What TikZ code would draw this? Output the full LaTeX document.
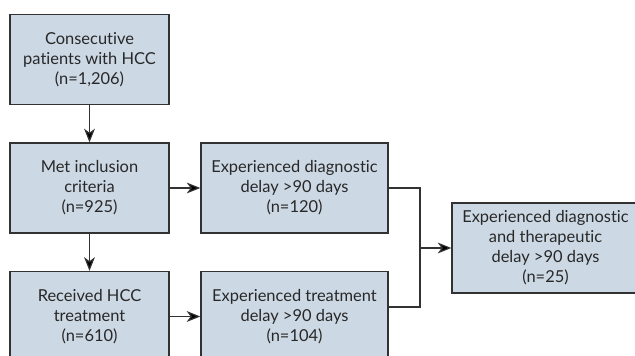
\documentclass[tikz,border=0pt]{standalone}
\usepackage{fontspec}
\setmainfont{Lato}[Ligatures=NoCommon]
\usetikzlibrary{arrows.meta}
\definecolor{boxfill}{RGB}{204,216,228}
\definecolor{boxline}{RGB}{50,50,50}
\definecolor{boxtext}{RGB}{40,40,40}
\begin{document}
\begin{tikzpicture}
\tikzset{box style/.style={shape=rectangle,draw=boxline,fill=boxfill,line width=1pt,
                           align=center,inner sep=0pt,minimum height=2.25cm,text=boxtext,
                           font=\fontsize{11.7}{14.2}\selectfont}}
\tikzset{left box/.style={box style,minimum width=3.975cm}}
\tikzset{wide box/.style={box style,minimum width=4.675cm}}

\clip (0,0) rectangle (15.875,8.9);

\node[left box] at (2.2375, 7.4125)   (1)     {Consecutive\\patients with HCC\\(n=1,206)};
\node[left box] at (2.2375, 4.2)      (2)     {Met inclusion\\criteria\\(n=925)};
\node[left box] at (2.2375, 0.9875)   (4)     {Received HCC\\treatment\\(n=610)};

\node[wide box] at (7.3625, 4.2)      (3)     {Experienced diagnostic\\delay >90 days\\(n=120)};
\node[wide box] at (7.3625, 0.9875)   (5)     {Experienced treatment\\delay >90 days\\(n=104)};
%\node[wide box] at (7.3625, -2.2)    (7)     {};

\node[wide box] at (13.6375, 2.7)     (6)     {Experienced diagnostic\\and therapeutic\\delay >90 days\\(n=25)};

\coordinate (m)  at (10.5, 2.7);
\coordinate (5r) at (9.7, 1.225);

\draw[line width=0.8pt, draw=boxline, >={Stealth[length=3.4mm,width=2.7mm,inset=1mm]}]
            (1)     edge[->]    (2)
            (2)     edge[->]    (4)
            (2)     edge[->]    (3)
            (4)     edge[->]    (5)
            (m)     edge[->]    (6)
;
\draw[line width=0.8pt, draw=boxline] (3.east) -| (m) (5r) -| (m);
\end{tikzpicture}
\end{document}
